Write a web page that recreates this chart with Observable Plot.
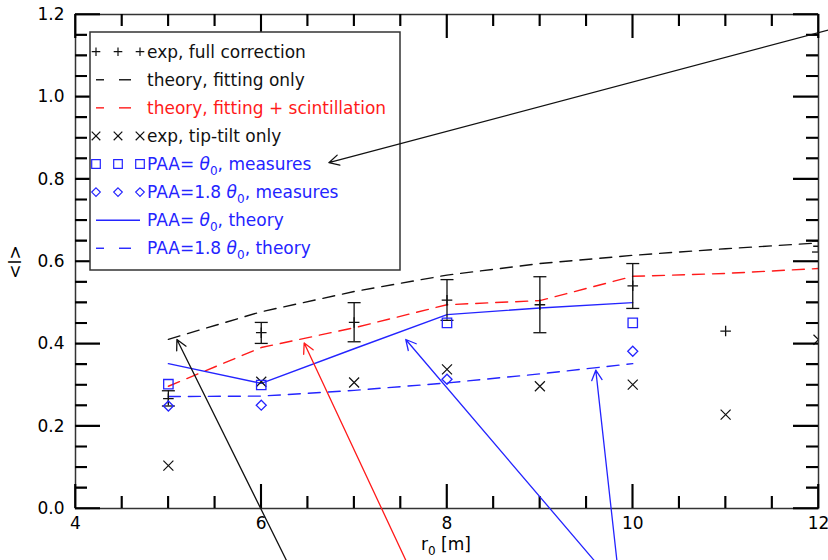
<!DOCTYPE html>
<html><head><meta charset="utf-8">
<script src="https://cdn.jsdelivr.net/npm/d3@7"></script>
<script src="https://cdn.jsdelivr.net/npm/@observablehq/plot@0.6"></script>
<style>body{margin:0;background:#fff} #chart svg{display:block}</style>
</head><body><div id="chart"></div>
<script>
// ---------- data ----------
const r0Full = [5, 6, 7, 8, 9, 10, 11, 12];
const fullMean = [0.267, 0.427, 0.452, 0.506, 0.495, 0.541, 0.431, 0.637];
const fullLow  = [0.249, 0.401, 0.405, 0.457, 0.427, 0.486, null, 0.623];
const fullHigh = [0.286, 0.452, 0.500, 0.556, 0.563, 0.595, null, 0.650];

const r0Theory = [5, 6, 7, 8, 9, 10, 11, 12];
const theoryFit   = [0.411, 0.478, 0.527, 0.567, 0.595, 0.615, 0.631, 0.645];
const theoryScint = [0.297, 0.391, 0.439, 0.495, 0.505, 0.564, 0.571, 0.583];

const r0Tip = [5, 6, 7, 8, 9, 10, 11, 12];
const tipTilt = [0.104, 0.308, 0.306, 0.338, 0.297, 0.301, 0.228, 0.410];

const r0Meas = [5, 6, 8, 10];
const paaMeas   = [0.302, 0.300, 0.451, 0.451];
const paa18Meas = [0.249, 0.251, 0.314, 0.382];

const r0Paa = [5, 6, 7, 8, 9, 10];
const paaTheory   = [0.352, 0.304, 0.388, 0.471, 0.487, 0.500];
const paa18Theory = [0.272, 0.273, 0.287, 0.305, 0.327, 0.352];

const arrowTailX = [12.15, 6.271, 7.557, 9.584, 9.829];
const arrowTailY = [1.165, -0.126, -0.126, -0.126, -0.126];
const arrowHeadX = [6.728, 5.092, 6.462, 7.556, 9.602];
const arrowHeadY = [0.840, 0.4105, 0.402, 0.4105, 0.336];
const arrowGroup = ["black", "black", "red", "blue", "blue"];

const xTicks = [4, 6, 8, 10, 12];
const xMinor = [4.5, 5, 5.5, 6.5, 7, 7.5, 8.5, 9, 9.5, 10.5, 11, 11.5];
const yTicks = [0, 0.2, 0.4, 0.6, 0.8, 1.0, 1.2];
const yMinor = [0.05, 0.1, 0.15, 0.25, 0.3, 0.35, 0.45, 0.5, 0.55, 0.65, 0.7, 0.75, 0.85, 0.9, 0.95, 1.05, 1.1, 1.15];

const legendLabels = ["exp, full correction", "theory, fitting only", "theory, fitting + scintillation",
  "exp, tip-tilt only", "PAA= θ₀, measures", "PAA=1.8 θ₀, measures", "PAA= θ₀, theory", "PAA=1.8 θ₀, theory"];
const xLabel = ["r", "0", " [m]"];
const yLabel = "<I>";

// ---------- styling ----------
const W = 828, H = 560, mL = 75, mR = 10, mT = 14, mB = 52;
const pxPerX = (W - mL - mR) / 8, pxPerY = (H - mT - mB) / 1.2;
const ink = "#111111", axisInk = "#333333", tickInk = "#000000", red = "#ff1a1a", blue = "#2424ff";
const colorOf = {black: ink, red: red, blue: blue};
const FONT = "'DejaVu Sans', sans-serif";

function makeSym(kind) {
  return {
    draw(ctx, size) {
      const r = Math.sqrt(size / Math.PI);
      if (kind === "plus") { ctx.moveTo(-r, 0); ctx.lineTo(r, 0); ctx.moveTo(0, -r); ctx.lineTo(0, r); }
      else if (kind === "times") { ctx.moveTo(-r, -r); ctx.lineTo(r, r); ctx.moveTo(-r, r); ctx.lineTo(r, -r); }
      else if (kind === "square") { ctx.moveTo(-r, -r); ctx.lineTo(r, -r); ctx.lineTo(r, r); ctx.lineTo(-r, r); ctx.closePath(); }
      else if (kind === "diamond") { ctx.moveTo(0, -r); ctx.lineTo(r, 0); ctx.lineTo(0, r); ctx.lineTo(-r, 0); ctx.closePath(); }
      else if (kind === "cap") { ctx.moveTo(-r, 0); ctx.lineTo(r, 0); }
    }
  };
}

const fullRows = r0Full.map((x, i) => ({x, m: fullMean[i], lo: fullLow[i], hi: fullHigh[i]}));
const barRows = fullRows.filter(d => d.lo != null);
const theoryRows = r0Theory.map((x, i) => ({x, fit: theoryFit[i], sc: theoryScint[i]}));
const tipRows = r0Tip.map((x, i) => ({x, y: tipTilt[i]}));
const measRows = r0Meas.map((x, i) => ({x, a: paaMeas[i], b: paa18Meas[i]}));
const paaRows = r0Paa.map((x, i) => ({x, a: paaTheory[i], b: paa18Theory[i]}));
const arrowRows = arrowTailX.map((x1, i) => ({x1, y1: arrowTailY[i], x2: arrowHeadX[i], y2: arrowHeadY[i], g: arrowGroup[i]}));

// inward ticks on all four sides (pixel lengths converted to data units)
const xTickRows = [
  ...xTicks.map(v => ({v, a: 0, b: 24 / pxPerY})), ...xMinor.map(v => ({v, a: 0, b: 12 / pxPerY})),
  ...xTicks.map(v => ({v, a: 1.2, b: 1.2 - 24 / pxPerY})), ...xMinor.map(v => ({v, a: 1.2, b: 1.2 - 12 / pxPerY}))
];
const yTickRows = [
  ...yTicks.map(v => ({v, a: 4, b: 4 + 25 / pxPerX})), ...yMinor.map(v => ({v, a: 4, b: 4 + 12 / pxPerX})),
  ...yTicks.map(v => ({v, a: 12, b: 12 - 25 / pxPerX})), ...yMinor.map(v => ({v, a: 12, b: 12 - 12 / pxPerX}))
];

const DASH = "12,8";
const arrowMarks = ["black", "red", "blue"].map(g =>
  Plot.arrow(arrowRows.filter(d => d.g === g), {x1: "x1", y1: "y1", x2: "x2", y2: "y2",
    stroke: colorOf[g], strokeWidth: 1.3, headLength: 13, headAngle: 55}));

const chart = Plot.plot({
  width: W, height: H,
  marginLeft: mL, marginRight: mR, marginTop: mT, marginBottom: mB,
  x: {domain: [4, 12]},
  y: {domain: [0, 1.2]},
  style: {fontFamily: FONT, fontSize: "17px"},
  marks: [
    Plot.axisX({ticks: xTicks, tickFormat: d => String(d), tickSize: 0, tickPadding: 8, fontSize: 17, fill: "#000", label: null}),
    Plot.axisY({ticks: yTicks, tickFormat: d3.format(".1f"), tickSize: 0, tickPadding: 11, fontSize: 17, fill: "#000", label: null}),

    // theory curves
    Plot.line(theoryRows, {x: "x", y: "fit", stroke: ink, strokeWidth: 1.4, strokeDasharray: DASH, clip: true}),
    Plot.line(theoryRows, {x: "x", y: "sc", stroke: red, strokeWidth: 1.4, strokeDasharray: DASH, clip: true}),
    Plot.line(paaRows, {x: "x", y: "a", stroke: blue, strokeWidth: 1.4, clip: true}),
    Plot.line(paaRows, {x: "x", y: "b", stroke: blue, strokeWidth: 1.4, strokeDasharray: DASH, clip: true}),

    // full correction with error bars
    Plot.ruleX(barRows, {x: "x", y1: "lo", y2: "hi", stroke: ink, strokeWidth: 1.3, clip: true}),
    Plot.dot(barRows, {x: "x", y: "lo", symbol: makeSym("cap"), r: 6.5, fill: "none", stroke: ink, strokeWidth: 1.3, clip: true}),
    Plot.dot(barRows, {x: "x", y: "hi", symbol: makeSym("cap"), r: 6.5, fill: "none", stroke: ink, strokeWidth: 1.3, clip: true}),
    Plot.dot(fullRows, {x: "x", y: "m", symbol: makeSym("plus"), r: 5.3, fill: "none", stroke: ink, strokeWidth: 1.3, clip: true}),

    // tip-tilt
    Plot.dot(tipRows, {x: "x", y: "y", symbol: makeSym("times"), r: 5, fill: "none", stroke: ink, strokeWidth: 1.2, clip: true}),

    // PAA measures
    Plot.dot(measRows, {x: "x", y: "a", symbol: makeSym("square"), r: 4.7, fill: "none", stroke: blue, strokeWidth: 1.3, clip: true}),
    Plot.dot(measRows, {x: "x", y: "b", symbol: makeSym("diamond"), r: 5, fill: "none", stroke: blue, strokeWidth: 1.3, clip: true}),

    Plot.frame({stroke: axisInk, strokeWidth: 1.5}),

    // inward ticks, drawn after the frame
    Plot.ruleX(xTickRows, {x: "v", y1: "a", y2: "b", stroke: tickInk, strokeWidth: 1.6}),
    Plot.ruleY(yTickRows, {y: "v", x1: "a", x2: "b", stroke: tickInk, strokeWidth: 1.6}),

    // annotation arrows
    ...arrowMarks
  ]
});

document.getElementById("chart").appendChild(chart);

const svg = d3.select(chart);
const arrowsG = svg.selectAll("g[aria-label='arrow']").nodes();

// tick paths through the plot's own scales (same positions as the rule marks)
const sx = chart.scale("x"), sy = chart.scale("y");
const tickPath = [
  ...xTickRows.map(d => `M${sx.apply(d.v)},${sy.apply(d.a)}V${sy.apply(d.b)}`),
  ...yTickRows.map(d => `M${sx.apply(d.a)},${sy.apply(d.v)}H${sx.apply(d.b)}`)
].join("");
svg.append("path").attr("d", tickPath).attr("fill", "none").attr("stroke", tickInk).attr("stroke-width", 1.6);

// ---------- legend ----------
const lg = svg.append("g").attr("font-family", FONT).attr("font-size", 17).attr("text-anchor", "start");
lg.append("rect").attr("x", 90).attr("y", 32).attr("width", 310).attr("height", 238)
  .attr("fill", "white").attr("stroke", axisInk).attr("stroke-width", 1.5);

const legendKinds = [
  {type: "sym", sym: "plus", color: ink},
  {type: "dash", color: ink},
  {type: "dash", color: red},
  {type: "sym", sym: "times", color: ink},
  {type: "sym", sym: "square", color: blue},
  {type: "sym", sym: "diamond", color: blue},
  {type: "solid", color: blue},
  {type: "dash", color: blue}
];

function symPath(kind, r) {
  const p = d3.path();
  makeSym(kind).draw(p, Math.PI * r * r);
  return p.toString();
}

legendKinds.forEach((k, i) => {
  const cy = 51.7 + i * 28.08;
  if (k.type === "sym") {
    [96, 118, 140].forEach(cx => {
      lg.append("path").attr("d", symPath(k.sym, 4.3)).attr("transform", `translate(${cx},${cy})`)
        .attr("fill", "none").attr("stroke", k.color).attr("stroke-width", 1.2);
    });
  } else if (k.type === "dash") {
    [[96, 104], [119, 131]].forEach(([a, b]) => {
      lg.append("line").attr("x1", a).attr("x2", b).attr("y1", cy).attr("y2", cy)
        .attr("stroke", k.color).attr("stroke-width", 1.4);
    });
  } else {
    lg.append("line").attr("x1", 96).attr("x2", 140).attr("y1", cy).attr("y2", cy)
      .attr("stroke", k.color).attr("stroke-width", 1.4);
  }
  const t = lg.append("text").attr("x", 147).attr("y", cy + 6).attr("fill", k.color).attr("text-anchor", "start");
  const label = legendLabels[i];
  if (label.includes("θ₀")) {
    const [pre, post] = label.split("θ₀");
    t.append("tspan").text(pre);
    t.append("tspan").attr("font-style", "italic").text("θ");
    t.append("tspan").attr("font-size", 12).attr("dy", 5).text("0");
    t.append("tspan").attr("dy", -5).text(post);
  } else {
    t.text(label);
  }
});

// bring arrows above legend
arrowsG.forEach(n => chart.appendChild(n));

// axis titles
const xt = svg.append("text").attr("x", 446).attr("y", 550).attr("text-anchor", "middle")
  .attr("font-family", FONT).attr("font-size", 17).attr("fill", "#000");
xt.append("tspan").text(xLabel[0]);
xt.append("tspan").attr("font-size", 12).attr("dy", 5).text(xLabel[1]);
xt.append("tspan").attr("dy", -5).text(xLabel[2]);

svg.append("text").attr("transform", "translate(21,262) rotate(-90)").attr("text-anchor", "middle")
  .attr("font-family", FONT).attr("font-size", 17).attr("fill", "#000").text(yLabel);
</script>
</body></html>
